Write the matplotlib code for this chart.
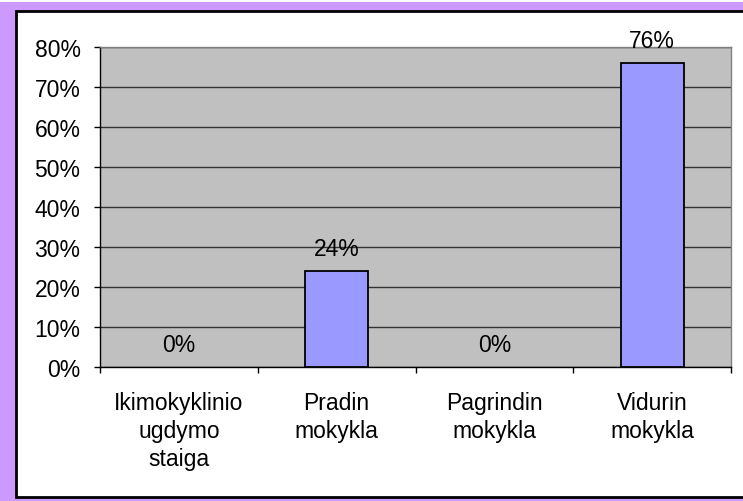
import numpy as np
import matplotlib.pyplot as plt
from matplotlib.patches import Rectangle
from matplotlib.ticker import MultipleLocator, PercentFormatter

categories = ["Ikimokyklinio\nugdymo\nstaiga", "Pradin\nmokykla", "Pagrindin\nmokykla", "Vidurin\nmokykla"]
values = [0, 24, 0, 76]
value_labels = ["0%", "24%", "0%", "76%"]

plt.rcParams['font.family'] = ['Liberation Sans', 'DejaVu Sans']
FS = 16.5

W, H = 743, 502
fig = plt.figure(figsize=(W / 100, H / 100), dpi=100)
fig.patch.set_facecolor('white')

# purple frame and white chart area with black border
fig.patches.append(Rectangle((0, 0), 1, 1 - 3 / H, transform=fig.transFigure,
                             facecolor='#CC99FF', edgecolor='none', zorder=0))
fig.patches.append(Rectangle((15.5 / W, 4.5 / H), 1.1, 1 - 16.5 / H, transform=fig.transFigure,
                             facecolor='white', edgecolor='black', linewidth=2, zorder=1))

ax = fig.add_axes([100 / W, (H - 368) / H, 631 / W, 320 / H])
ax.set_facecolor('#C0C0C0')
ax.set_zorder(2)

x = np.arange(len(categories))
edges = ['black' if v > 0 else 'none' for v in values]
ax.bar(x, values, width=0.4, color='#9999FF', edgecolor=edges, linewidth=1.3, zorder=3)

for xi, v, lab in zip(x, values, value_labels):
    ax.text(xi, v + 5.6, lab, ha='center', va='center', fontsize=FS, color='black', zorder=4)

ax.set_xlim(-0.5, len(categories) - 0.5)
ax.set_ylim(0, 80)
ax.yaxis.set_major_locator(MultipleLocator(10))
ax.yaxis.set_major_formatter(PercentFormatter(decimals=0))
ax.grid(axis='y', color='#333333', linewidth=1, zorder=1)
ax.set_axisbelow(True)

ax.set_xticks(np.arange(-0.5, len(categories), 1.0))
ax.set_xticklabels([])
ax.set_xticks(x, minor=True)
ax.set_xticklabels(categories, minor=True, fontsize=FS, linespacing=1.3)
ax.tick_params(axis='x', which='minor', length=0, pad=17)
ax.tick_params(axis='x', which='major', length=4.5, width=1, color='black', direction='out')
ax.tick_params(axis='y', length=4.5, width=1, labelsize=FS, pad=9.5)

for s in ['left', 'bottom']:
    ax.spines[s].set_color('black')
    ax.spines[s].set_linewidth(1)
for s in ['top', 'right']:
    ax.spines[s].set_color('#808080')
    ax.spines[s].set_linewidth(1)

fig.savefig('out.png', dpi=100)
